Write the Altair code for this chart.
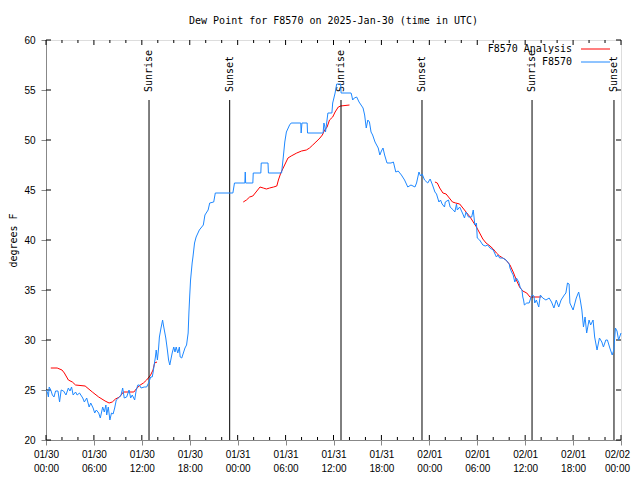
import json
import altair as alt
import pandas as pd

# ---------------- data ----------------
obs_hours = [0.05, 0.2, 0.3, 0.4, 0.6, 0.8, 1.0, 1.2, 1.5, 1.7, 1.9, 2.2, 2.5, 2.8, 3.0, 3.2, 3.4, 3.7, 3.9,
             4.2, 4.6, 4.8, 5.1, 5.4, 5.6, 5.9, 6.1, 6.3, 6.6, 6.8, 7.1, 7.3, 7.5, 7.6, 7.8, 8.0, 8.2, 8.4,
             8.6, 8.8, 9.2, 9.4, 9.6, 9.8, 10.1, 10.4, 10.6, 10.8, 11.1, 11.3, 11.5, 11.7, 11.9, 12.3, 12.6,
             12.9, 13.1, 13.3, 13.4, 13.6, 13.7, 13.8, 13.95, 14.1, 14.2, 14.4, 14.6, 14.7, 15.0, 15.2, 15.35,
             15.5, 15.8, 16.0, 16.15, 16.3, 16.5, 16.7, 16.8, 17.0, 17.2, 17.4, 17.6, 17.8, 17.9, 18.0, 18.1,
             18.3, 18.4, 18.6, 18.8, 19.2, 19.5, 19.7, 19.9, 20.3, 20.5, 21.0, 21.2, 23.4, 23.6, 24.9, 24.95,
             25.0, 25.9, 25.95, 26.9, 26.95, 27.8, 27.85, 29.5, 29.7, 29.9, 30.1, 30.5, 30.7, 31.9, 31.95,
             32.05, 32.7, 32.75, 34.7, 34.8, 34.9, 35.0, 35.3, 35.8, 35.9, 36.2, 36.4, 36.9, 36.95, 38.2,
             38.3, 38.4, 38.6, 38.9, 39.2, 39.7, 39.9, 40.1, 40.3, 40.5, 40.7, 40.9, 41.2, 41.6, 41.8, 42.0,
             42.2, 42.4, 42.7, 43.2, 43.5, 43.8, 44.1, 44.5, 44.9, 45.3, 45.7, 46.2, 46.4, 46.7, 46.9, 47.1,
             47.4, 47.8, 48.1, 48.4, 48.7, 48.9, 49.2, 49.4, 49.6, 49.9, 50.0, 50.4, 50.6, 51.0, 51.2, 51.4,
             51.5, 51.8, 52.2, 52.4, 52.6, 52.9, 53.3, 53.5, 53.7, 53.9, 54.0, 54.3, 54.7, 55.0, 55.3, 55.6,
             56.0, 56.4, 56.6, 56.8, 57.2, 57.6, 58.0, 58.1, 58.3, 58.5, 58.7, 58.9, 59.2, 59.4, 59.6, 59.7,
             59.8, 59.9, 60.2, 60.5, 60.7, 60.9, 61.1, 61.2, 61.4, 61.7, 61.9, 62.2, 62.6, 63.0, 63.3, 63.6,
             63.9, 64.2, 64.5, 64.9, 65.1, 65.3, 65.5, 65.6, 66.0, 66.4, 66.7, 66.9, 67.1, 67.3, 67.5, 67.7,
             68.0, 68.2, 68.5, 68.7, 69.0, 69.3, 69.6, 69.8, 70.1, 70.3, 70.6, 70.9, 71.1, 71.3, 71.5, 71.7,
             72.0]
obs_values = [25.0, 24.7, 24.3, 25.3, 25.0, 24.5, 24.3, 24.9, 24.9, 23.8, 25.0, 24.9, 24.5, 25.2, 24.9, 25.3,
              24.5, 24.8, 24.5, 24.7, 24.2, 23.8, 24.2, 23.3, 23.7, 23.2, 22.7, 23.0, 22.7, 22.2, 23.3, 22.8,
              23.5, 22.5, 23.3, 22.0, 22.7, 22.6, 23.2, 24.0, 24.3, 24.5, 25.2, 24.2, 24.3, 25.0, 24.2, 24.5,
              24.0, 25.0, 25.5, 25.5, 25.2, 25.3, 25.3, 25.8, 26.3, 26.3, 26.7, 27.8, 28.3, 29.0, 28.0, 29.2,
              30.3, 31.2, 32.0, 31.5, 30.2, 29.0, 28.0, 27.5, 28.7, 29.3, 28.8, 29.3, 28.7, 29.3, 28.3, 28.2,
              28.7, 29.2, 29.5, 30.7, 32.8, 34.5, 36.0, 37.7, 38.3, 39.7, 40.3, 41.0, 41.3, 41.5, 42.5, 43.0,
              43.7, 43.8, 44.7, 44.7, 45.7, 45.7, 46.8, 45.7, 45.7, 46.7, 46.7, 47.7, 47.7, 46.7, 46.7, 48.2,
              49.8, 50.8, 51.5, 51.7, 51.7, 50.7, 51.7, 51.7, 50.7, 50.7, 51.7, 51.4, 50.8, 52.7, 52.7, 53.7,
              54.7, 55.6, 55.6, 54.7, 54.7, 54.4, 54.0, 54.2, 54.3, 53.8, 53.2, 52.5, 51.2, 52.0, 51.8, 50.8,
              50.5, 49.8, 49.2, 48.5, 48.9, 49.2, 48.5, 47.7, 47.7, 47.8, 46.8, 46.9, 46.5, 46.0, 45.3, 45.5,
              45.3, 45.7, 46.8, 46.4, 46.6, 46.0, 45.7, 46.1, 45.5, 44.8, 44.6, 43.8, 44.0, 43.6, 43.3, 43.8,
              44.0, 43.3, 43.0, 42.8, 43.6, 43.0, 43.3, 42.6, 42.2, 42.8, 42.3, 42.3, 43.0, 41.5, 41.7, 40.2,
              40.0, 39.5, 39.4, 39.5, 39.2, 39.0, 38.3, 38.5, 38.2, 38.2, 38.0, 37.6, 37.2, 36.8, 36.5, 35.8,
              36.2, 35.8, 35.2, 35.0, 34.3, 34.0, 33.5, 33.7, 33.7, 34.2, 34.5, 34.4, 33.7, 34.0, 33.3, 34.5,
              34.2, 34.0, 34.2, 33.8, 33.2, 34.0, 33.3, 34.0, 34.5, 34.7, 35.7, 35.6, 33.7, 33.0, 34.2, 34.8,
              34.0, 33.0, 31.3, 32.3, 30.7, 32.0, 31.5, 32.0, 30.3, 29.0, 30.2, 29.8, 29.3, 30.0, 30.0, 29.2,
              28.5, 29.0, 31.2, 30.9, 30.0, 30.7]

ana_hours = [0.6, 1.4, 2.0, 2.3, 2.8, 3.3, 3.7, 4.9, 5.8, 6.6, 7.4, 7.9, 8.3, 8.7, 9.2, 9.7, 11.0, 11.4,
             11.8, 12.2, 12.6, 13.1, 13.4, 13.6, 13.9,
             24.7, 25.1, 25.5, 25.9, 26.3, 26.8, 27.2, 27.6, 28.0, 28.5, 28.9, 29.1, 29.4, 29.7, 30.0, 30.3,
             30.7, 31.4, 32.0, 32.6, 33.0, 33.4, 33.8, 34.3, 34.6, 34.9, 35.2, 35.5, 35.9, 36.2, 36.6, 36.9, 38.0,
             48.7, 49.0, 49.3, 49.7, 50.1, 50.5, 50.9, 51.3, 51.8, 52.2, 52.6, 53.1, 53.5, 53.9, 54.3, 54.7,
             55.1, 55.6, 56.0, 56.4, 56.8, 57.2, 57.6, 58.1, 58.5, 58.9, 59.3, 59.7, 60.2, 60.6, 62.0]
ana_values = [27.2, 27.2, 27.0, 26.7, 26.0, 25.8, 25.5, 25.4, 24.8, 24.3, 23.9, 23.7, 23.8, 24.1, 24.3, 24.8,
              24.8, 25.2, 25.5, 25.7, 26.0, 26.5, 27.0, 27.7, 27.8,
              43.8, 44.0, 44.3, 44.4, 44.8, 45.3, 45.2, 45.1, 45.2, 45.3, 45.4, 46.0, 46.7, 47.2, 47.7, 48.2,
              48.4, 48.7, 48.9, 49.0, 49.2, 49.5, 49.8, 50.2, 50.5, 51.0, 51.3, 52.0, 52.3, 52.8, 53.3, 53.4, 53.5,
              45.8, 45.7, 45.2, 44.7, 44.6, 44.2, 43.8, 43.7, 43.6, 43.2, 42.8, 42.3, 41.8, 41.3, 40.7, 40.1,
              39.7, 39.4, 39.1, 38.7, 38.4, 38.2, 38.0, 37.5, 36.8, 36.0, 35.3, 34.9, 34.7, 34.3, 34.3]
ana_segments = [1] * 25 + [2] * 33 + [3] * 31

sun_hours = [12.9, 23.0, 36.94, 47.08, 60.86, 71.12]
sun_labels = ["Sunrise", "Sunset", "Sunrise", "Sunset", "Sunrise", "Sunset"]

tick_dates = ["01/30", "01/30", "01/30", "01/30", "01/31", "01/31", "01/31", "01/31",
              "02/01", "02/01", "02/01", "02/01", "02/02"]
tick_times = ["00:00", "06:00", "12:00", "18:00", "00:00", "06:00", "12:00", "18:00",
              "00:00", "06:00", "12:00", "18:00", "00:00"]
x_major = [0, 6, 12, 18, 24, 30, 36, 42, 48, 54, 60, 66, 72]
x_minor = [h for h in range(0, 73, 2) if h % 6 != 0]
y_major = [20, 25, 30, 35, 40, 45, 50, 55, 60]

series_names = ["F8570 Analysis", "F8570"]
series_colors = ["#ff0000", "#1e88ff"]

FONT = "DejaVu Sans Mono"
W, H = 575, 400

# ---------------- frames ----------------
obs = pd.DataFrame({"h": obs_hours, "v": obs_values, "series": "F8570", "seg": 0})
ana = pd.DataFrame({"h": ana_hours, "v": ana_values, "series": "F8570 Analysis", "seg": ana_segments})
sun = pd.DataFrame({"h": sun_hours, "label": sun_labels})

xs = alt.Scale(domain=[0, 72], nice=False, zero=False)
ys = alt.Scale(domain=[20, 60], nice=False, zero=False)
cs = alt.Scale(domain=series_names, range=series_colors)

label_expr = ("[" + json.dumps(tick_dates) + "[round(datum.value/6)], "
              + json.dumps(tick_times) + "[round(datum.value/6)]]")

x_axis = alt.Axis(values=x_major, labelExpr=label_expr, title=None, labelPadding=4, grid=False,
                  labelLineHeight=14, labelOverlap=False, labelFlush=False, labelBaseline="top",
                  labelOffset={"condition": {"test": "datum.value >= 72", "value": -4}, "value": 0})
y_axis = alt.Axis(values=y_major, title="degrees F", labelPadding=6, titleX=-33, titleY=200, grid=False,
                  titleAngle=270, titleBaseline="middle", titleAlign="center", titleFontWeight="normal",
                  titleFont=FONT, titleFontSize=10)


def X(field="h:Q"):
    return alt.X(field, scale=xs, axis=x_axis)


def Y(field="v:Q"):
    return alt.Y(field, scale=ys, axis=y_axis)


ana_layer = alt.Chart(ana).mark_line(strokeWidth=1).encode(
    x=X(), y=Y(),
    color=alt.Color("series:N", scale=cs, legend=None),
    detail="seg:N",
    order="h:Q",
)
obs_layer = alt.Chart(obs).mark_line(strokeWidth=1).encode(
    x=X(), y=Y(),
    color=alt.Color("series:N", scale=cs, legend=None),
    order="h:Q",
)

sun_rules = alt.Chart(sun).mark_rule(color="black", strokeWidth=1).encode(
    x=X(), y=alt.value(60), y2=alt.value(H))
sun_text = alt.Chart(sun).mark_text(angle=270, align="left", baseline="middle", font=FONT,
                                    fontSize=10, color="black").encode(
    x=X(), y=alt.value(52), text="label:N")

xmaj = pd.DataFrame({"h": x_major})
xmin = pd.DataFrame({"h": x_minor})
ymaj = pd.DataFrame({"v": y_major})


def xticks(df, length):
    top = alt.Chart(df).mark_rule(color="black").encode(
        x=X(), y=alt.value(0), y2=alt.value(length))
    bot = alt.Chart(df).mark_rule(color="black").encode(
        x=X(), y=alt.value(H), y2=alt.value(H - length))
    return [top, bot]


ytick_l = alt.Chart(ymaj).mark_rule(color="black").encode(
    y=Y(), x=alt.value(0), x2=alt.value(5))
ytick_r = alt.Chart(ymaj).mark_rule(color="black").encode(
    y=Y(), x=alt.value(W), x2=alt.value(W - 5))

legend_layers = []
for i, (name, col) in enumerate(zip(series_names, series_colors)):
    yy = 9 + 13 * i
    legend_layers.append(
        alt.Chart(pd.DataFrame({"t": [name]})).mark_text(align="right", baseline="middle", font=FONT,
                                                          fontSize=10, color="black").encode(
            text="t:N", x=alt.value(526), y=alt.value(yy)))
    legend_layers.append(
        alt.Chart(pd.DataFrame({"t": [name]})).mark_rule(color=col, strokeWidth=1).encode(
            x=alt.value(535), x2=alt.value(564), y=alt.value(yy)))

chart = alt.layer(
    ana_layer, *xticks(xmaj, 5), *xticks(xmin, 3), ytick_l, ytick_r,
    sun_rules, sun_text, obs_layer, *legend_layers
).properties(
    width=W, height=H,
    title=alt.TitleParams("Dew Point for F8570 on 2025-Jan-30 (time in UTC)", font=FONT, fontSize=10,
                          fontWeight="normal", anchor="middle", offset=9, color="black"),
    padding={"left": 38, "top": 32, "right": 11, "bottom": 32},
    autosize=alt.AutoSizeParams(type="none"),
).configure_view(stroke="black", strokeWidth=1).configure_axis(
    labelFont=FONT, labelFontSize=10, labelColor="black", domain=False, ticks=False, grid=False,
    titleColor="black"
).configure(background="white")

chart.save("out.html", embed_options={"renderer": "svg", "actions": False})
